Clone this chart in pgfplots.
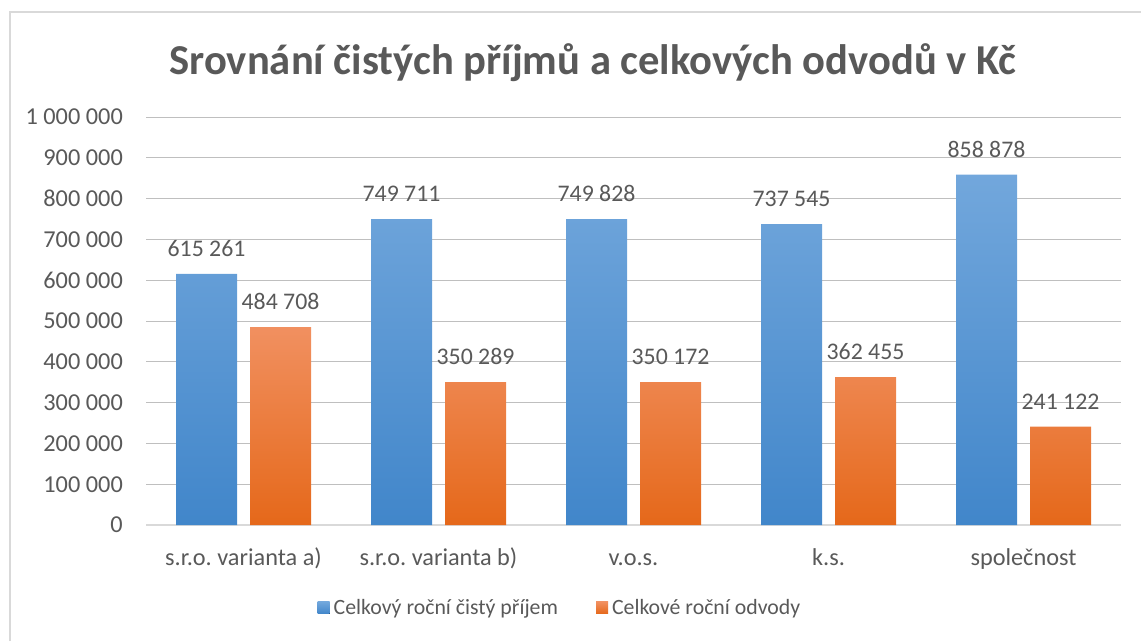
\documentclass[border=0pt]{standalone}
\usepackage{pgfplots}
\pgfplotsset{compat=1.18}
\usepackage{fontspec}
\setmainfont{Carlito}
\frenchspacing
\definecolor{txt}{HTML}{595959}
\definecolor{grid}{HTML}{D9D9D9}
\definecolor{btop}{HTML}{72A7DC}
\definecolor{bbot}{HTML}{4186CA}
\definecolor{otop}{HTML}{F19060}
\definecolor{obot}{HTML}{E5681A}
\begin{document}
\begin{tikzpicture}[x=1pt,y=1pt]
\path[use as bounding box] (0,0) rectangle (1141,641);
\draw[grid,line width=1.5pt] (10,0) -- (10,629) -- (1141,629);
\node[txt,font=\fontsize{42.6}{50}\bfseries\selectfont] at (593,578) {Srovnání čistých příjmů a celkových odvodů v Kč};
\begin{axis}[
  at={(146pt,116pt)}, anchor=south west,
  scale only axis, width=975pt, height=408pt,
  ymin=0, ymax=1000000,
  xmin=-0.5, xmax=4.5,
  xtick={0,1,2,3,4},
  xticklabels={s.r.o. varianta a), s.r.o. varianta b), v.o.s., k.s., společnost},
  ytick={0,100000,...,1000000},
  scaled y ticks=false,
  yticklabels={0,100 000,200 000,300 000,400 000,500 000,600 000,700 000,800 000,900 000,1 000 000},
  major tick length=0pt,
  ymajorgrids, xmajorgrids=false, grid style={grid, line width=1pt},
  axis x line*=bottom, axis y line*=left,
  x axis line style={grid, line width=1.2pt, -},
  y axis line style={draw=none},
  ticklabel style={txt, inner sep=0pt},
  xticklabel style={anchor=base, yshift=-40pt, font=\fontsize{24.3}{28}\selectfont},
  yticklabel style={anchor=east, xshift=-23pt, font=\fontsize{24.3}{28}\selectfont},
  ybar=13pt, bar width=61pt,
  point meta=explicit symbolic,
  nodes near coords,
  every node near coord/.append style={txt, font=\fontsize{23.8}{28}\selectfont, anchor=south, inner sep=0pt, yshift=17pt},
  legend columns=2,
  legend style={at={(0.4246,-0.203)}, anchor=center, draw=none, fill=none,
    font=\fontsize{21.8}{26}\selectfont, text=txt,
    /tikz/every even column/.append style={column sep=36pt}},
  legend image code/.code={\fill[#1] (0pt,-6pt) rectangle (12pt,6pt); \path (0pt,0pt) -- (14pt,0pt);},
]
\addplot[draw=none, top color=btop, bottom color=bbot] coordinates {
  (0,615261) [615 261]
  (1,749711) [749 711]
  (2,749828) [749 828]
  (3,737545) [737 545]
  (4,858878) [858 878]
};
\addplot[draw=none, top color=otop, bottom color=obot] coordinates {
  (0,484708) [484 708]
  (1,350289) [350 289]
  (2,350172) [350 172]
  (3,362455) [362 455]
  (4,241122) [241 122]
};
\legend{Celkový roční čistý příjem, Celkové roční odvody}
\end{axis}
\end{tikzpicture}
\end{document}
